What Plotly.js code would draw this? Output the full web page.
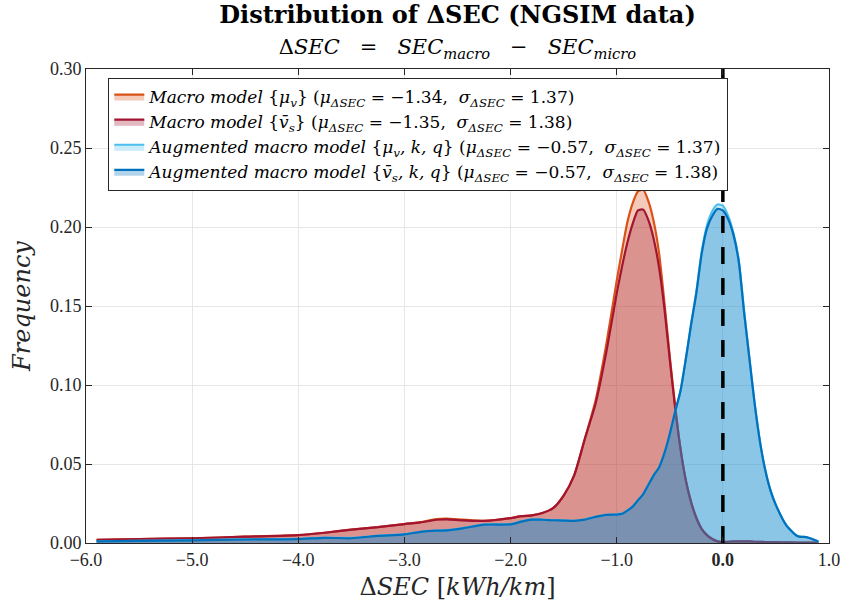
<!DOCTYPE html>
<html>
<head>
<meta charset="utf-8">
<script src="https://cdn.plot.ly/plotly-3.0.1.min.js"></script>
<style>
html,body{margin:0;padding:0;background:#fff;}
#chart{width:844px;height:609px;}
</style>
</head>
<body>
<div id="chart"></div>
<script>
// Shared x grid (ΔSEC, kWh/km)
const xVals = [-5.9,-5.5,-5.0,-4.5,-4.0,-3.75,-3.5,-3.25,-3.0,-2.85,-2.7,-2.6,-2.45,-2.25,-2.0,-1.9,-1.8,-1.7,-1.6,-1.5,-1.4,-1.3,-1.2,-1.1,-1.0,-0.95,-0.9,-0.85,-0.8,-0.75,-0.7,-0.65,-0.6,-0.55,-0.5,-0.45,-0.4,-0.35,-0.3,-0.25,-0.2,-0.15,-0.1,-0.05,0.0,0.05,0.1,0.15,0.2,0.25,0.3,0.35,0.4,0.45,0.5,0.6,0.7,0.8,0.9];

// Macro model {mu_v}
const macroMuV = [0.002,0.0025,0.003,0.004,0.005,0.0065,0.0085,0.010,0.012,0.0132,0.0152,0.0155,0.0148,0.014,0.0158,0.017,0.0175,0.019,0.022,0.030,0.043,0.066,0.090,0.125,0.166,0.185,0.203,0.215,0.2225,0.2235,0.216,0.203,0.183,0.152,0.118,0.087,0.060,0.040,0.026,0.016,0.009,0.005,0.0025,0.001,0.0005,0.0008,0.001,0.001,0.001,0.001,0.0008,0.0007,0.0006,0.0005,0.0005,0.0004,0.0003,0.0003,0.0002];

// Macro model {v_s bar}
const macroVs = [0.002,0.0025,0.003,0.004,0.005,0.0065,0.0085,0.010,0.012,0.013,0.0147,0.015,0.0143,0.014,0.0158,0.017,0.0175,0.019,0.022,0.030,0.043,0.066,0.088,0.120,0.158,0.175,0.190,0.202,0.2105,0.211,0.204,0.192,0.174,0.148,0.116,0.086,0.060,0.040,0.026,0.016,0.009,0.005,0.0025,0.001,0.0005,0.0008,0.001,0.001,0.001,0.001,0.0008,0.0007,0.0006,0.0005,0.0005,0.0004,0.0003,0.0003,0.0002];

// Augmented macro model {mu_v, k, q}
const augMuV = [0.0011,0.0014,0.0018,0.0023,0.0026,0.0034,0.0032,0.0046,0.0056,0.0071,0.0079,0.0081,0.0094,0.0117,0.0119,0.0136,0.0149,0.0148,0.0145,0.0143,0.0141,0.0149,0.0166,0.0179,0.0181,0.0186,0.0206,0.0231,0.0271,0.0311,0.0371,0.0431,0.048,0.057,0.069,0.083,0.096,0.116,0.138,0.159,0.184,0.201,0.210,0.2142,0.2135,0.207,0.196,0.179,0.147,0.117,0.088,0.064,0.046,0.033,0.024,0.011,0.0045,0.0035,0.001];

// Augmented macro model {v_s bar, k, q}
const augVs = [0.001,0.0013,0.0017,0.0022,0.0025,0.0033,0.003,0.0045,0.0055,0.007,0.0078,0.008,0.0093,0.0116,0.0118,0.0135,0.0148,0.0147,0.0144,0.0142,0.014,0.0148,0.0165,0.0178,0.018,0.0185,0.0205,0.023,0.027,0.031,0.037,0.043,0.048,0.057,0.069,0.083,0.096,0.116,0.138,0.158,0.183,0.199,0.207,0.2115,0.2105,0.205,0.195,0.178,0.146,0.117,0.088,0.064,0.046,0.033,0.024,0.011,0.0045,0.0035,0.001];

const seriesNames = [
  "<i>Macro model</i> {<i>μ<sub>v</sub></i>} (<i>μ<sub>ΔSEC</sub></i> = −1.34,\u00A0 <i>σ<sub>ΔSEC</sub></i> = 1.37)",
  "<i>Macro model</i> {<i>v̄<sub>s</sub></i>} (<i>μ<sub>ΔSEC</sub></i> = −1.35,\u00A0 <i>σ<sub>ΔSEC</sub></i> = 1.38)",
  "<i>Augmented macro model</i> {<i>μ<sub>v</sub>, k, q</i>} (<i>μ<sub>ΔSEC</sub></i> = −0.57,\u00A0 <i>σ<sub>ΔSEC</sub></i> = 1.37)",
  "<i>Augmented macro model</i> {<i>v̄<sub>s</sub>, k, q</i>} (<i>μ<sub>ΔSEC</sub></i> = −0.57,\u00A0 <i>σ<sub>ΔSEC</sub></i> = 1.38)"
];
const seriesData = [macroMuV, macroVs, augMuV, augVs];
const lineColors = ["#D95319", "#A2142F", "#4DBEEE", "#0072BD"];
const fillColors = ["rgba(217,83,25,0.3)", "rgba(162,20,47,0.3)", "rgba(77,190,238,0.3)", "rgba(0,114,189,0.3)"];

// Zero reference line
const refX = [0, 0];
const refY = [0, 0.30];

const xTickVals = [-6, -5, -4, -3, -2, -1, 0, 1];
const xTickText = ["−6.0", "−5.0", "−4.0", "−3.0", "−2.0", "−1.0", "<b>0.0</b>", "1.0"];
const yTickVals = [0, 0.05, 0.10, 0.15, 0.20, 0.25, 0.30];
const yTickText = ["0.00", "0.05", "0.10", "0.15", "0.20", "0.25", "0.30"];

const serif = "Liberation Serif";
const wideSerif = "DejaVu Serif";

const traces = seriesData.map((ys, i) => ({
  type: "scatter", mode: "lines", x: xVals, y: ys, name: seriesNames[i],
  line: {color: lineColors[i], width: 2.2, shape: "spline", smoothing: 0.6},
  fill: "tozeroy", fillcolor: fillColors[i]
}));
traces.push({
  type: "scatter", mode: "lines", x: refX, y: refY, showlegend: false,
  line: {color: "#000000", width: 3.5, dash: "17px,14px"}
});

function axisBase() {
  return {
    showline: true, linecolor: "#262626", linewidth: 1, mirror: "ticks",
    ticks: "inside", ticklen: 6, tickcolor: "#262626",
    showgrid: true, gridcolor: "#E6E6E6", gridwidth: 1, zeroline: false,
    tickfont: {family: serif, size: 18, color: "#262626"}
  };
}

const nb3 = "\u00A0\u00A0\u00A0";
const layout = {
  width: 844, height: 609,
  margin: {l: 85.5, r: 15, t: 69, b: 66},
  paper_bgcolor: "#ffffff", plot_bgcolor: "#ffffff",
  font: {family: serif, size: 18, color: "#262626"},
  title: {
    text: "<b>Distribution of ΔSEC (NGSIM data)</b><br><span style='font-size:21px'>Δ<i>SEC</i>" + nb3 + "=" + nb3 + "<i>SEC<sub>macro</sub></i>" + nb3 + "−" + nb3 + "<i>SEC<sub>micro</sub></i></span>",
    x: 0.5, xref: "paper", xanchor: "center",
    y: 0.962, yref: "container", yanchor: "top",
    font: {family: wideSerif, size: 24, color: "#000000"}
  },
  xaxis: Object.assign(axisBase(), {
    range: [-6, 1], tickvals: xTickVals, ticktext: xTickText,
    title: {text: "Δ<i>SEC</i> [<i>kWh/km</i>]", font: {family: wideSerif, size: 24, color: "#262626"}, standoff: 9}
  }),
  yaxis: Object.assign(axisBase(), {
    range: [0, 0.30], tickvals: yTickVals, ticktext: yTickText,
    title: {text: "<i>Frequency</i>", font: {family: wideSerif, size: 24, color: "#262626"}, standoff: 12}
  }),
  showlegend: true,
  legend: {
    x: 0.03, y: 0.981, xanchor: "left", yanchor: "top",
    bgcolor: "#ffffff", bordercolor: "#262626", borderwidth: 1,
    font: {family: wideSerif, size: 17, color: "#000000"},
    tracegroupgap: 0, itemwidth: 30
  }
};

Plotly.newPlot("chart", traces, layout, {staticPlot: true, displayModeBar: false});
</script>
</body>
</html>
